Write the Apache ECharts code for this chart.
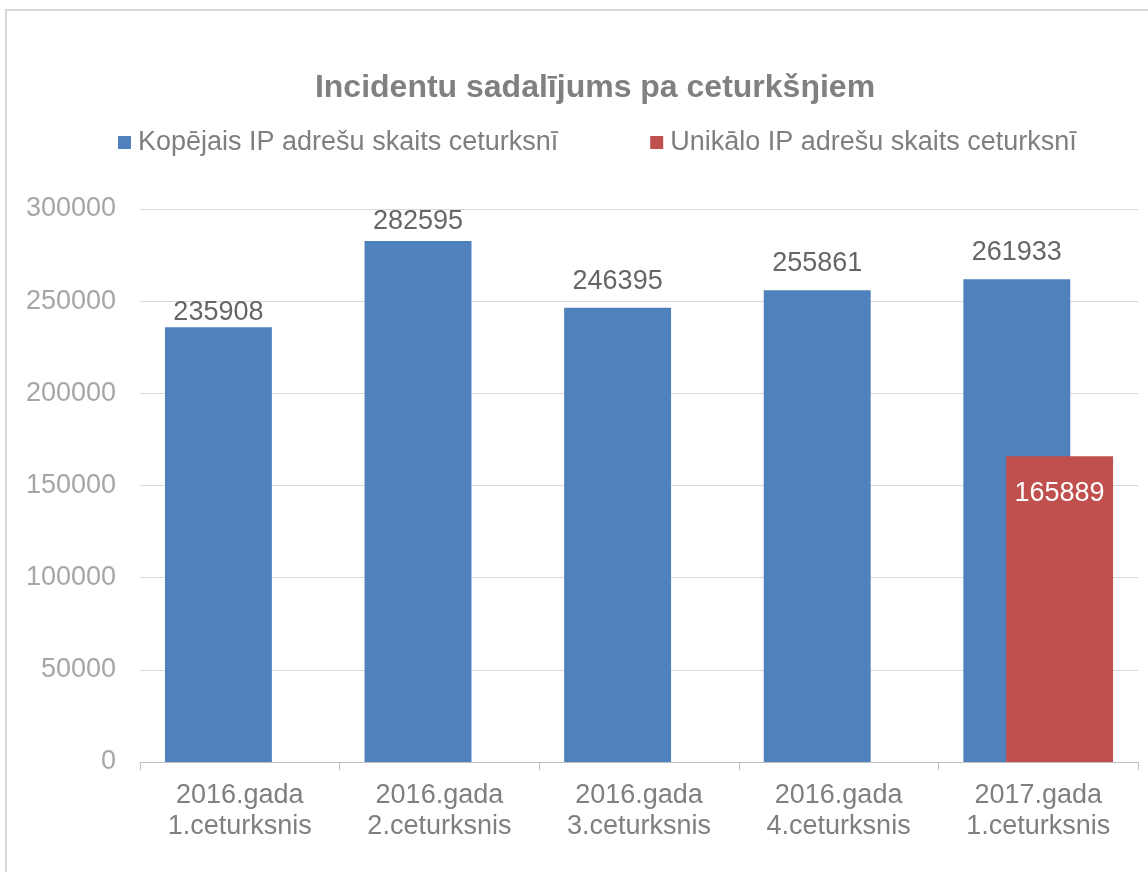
<!DOCTYPE html>
<html>
<head>
<meta charset="utf-8">
<title>Incidentu sadalījums pa ceturkšŋiem</title>
<script src="https://cdn.jsdelivr.net/npm/echarts@6/dist/echarts.min.js"></script>
<style>
  html, body { margin: 0; padding: 0; background: #fff; overflow: hidden; }
  #chart { width: 1148px; height: 872px; }
</style>
</head>
<body>
<div id="chart"></div>
<script>
const categories = [
  "2016.gada\n1.ceturksnis",
  "2016.gada\n2.ceturksnis",
  "2016.gada\n3.ceturksnis",
  "2016.gada\n4.ceturksnis",
  "2017.gada\n1.ceturksnis"
];
const totalIps = [235908, 282595, 246395, 255861, 261933];
const uniqueIps = [null, null, null, null, 165889];
const seriesNames = ["Kopējais IP adrešu skaits ceturksnī", "Unikālo IP adrešu skaits ceturksnī"];

const font = "Liberation Sans, Arial, sans-serif";
const chart = echarts.init(document.getElementById("chart"));

// Excel nudged the first two labels closer to their bars
const labelDistance = [1, 6, 13, 13, 13];

const option = {
  animation: false,
  textStyle: { fontFamily: font },
  graphic: [{
    type: "rect",
    shape: { x: 6, y: 10, width: 1160, height: 900 },
    style: { fill: null, stroke: "#d9d9d9", lineWidth: 2 },
    silent: true
  }],
  title: {
    text: "Incidentu sadalījums pa ceturkšŋiem",
    left: 590,
    textAlign: "center",
    top: 67,
    textStyle: { fontFamily: font, fontSize: 32, fontWeight: "bold", color: "#808080" }
  },
  legend: {
    left: 113,
    top: 124,
    itemWidth: 13,
    itemHeight: 13,
    itemGap: 92,
    icon: "rect",
    textStyle: { fontFamily: font, fontSize: 27, color: "#7f7f7f", padding: [0, 0, 0, 2] },
    data: seriesNames
  },
  grid: { left: 140, right: 10, top: 209, bottom: 110, containLabel: false },
  xAxis: {
    type: "category",
    data: categories,
    axisLine: { lineStyle: { color: "#bfbfbf", width: 1 } },
    axisTick: { show: true, length: 8, lineStyle: { color: "#bfbfbf" } },
    axisLabel: {
      fontFamily: font, fontSize: 27, color: "#7f7f7f",
      lineHeight: 31, margin: 18, interval: 0
    }
  },
  yAxis: {
    type: "value",
    min: 0,
    max: 300000,
    interval: 50000,
    axisLine: { show: false },
    axisTick: { show: false },
    splitLine: { lineStyle: { color: "#d9d9d9", width: 1 } },
    axisLabel: {
      fontFamily: font, fontSize: 27, color: "#a6a6a6", margin: 24,
      formatter: (v) => String(v)
    }
  },
  series: [
    {
      name: seriesNames[0],
      type: "bar",
      barGap: "-60%",
      barCategoryGap: "25%",
      itemStyle: { color: "#4f81bd" },
      label: {
        show: true, position: "top",
        fontFamily: font, fontSize: 27, color: "#666666"
      },
      data: totalIps.map((v, i) => ({ value: v, label: { distance: labelDistance[i] } }))
    },
    {
      name: seriesNames[1],
      type: "bar",
      barGap: "-60%",
      barCategoryGap: "25%",
      itemStyle: { color: "#c0504d" },
      label: {
        show: true, position: "insideTop", distance: 24,
        fontFamily: font, fontSize: 27, color: "#ffffff"
      },
      data: uniqueIps
    }
  ]
};

chart.setOption(option);
</script>
</body>
</html>
